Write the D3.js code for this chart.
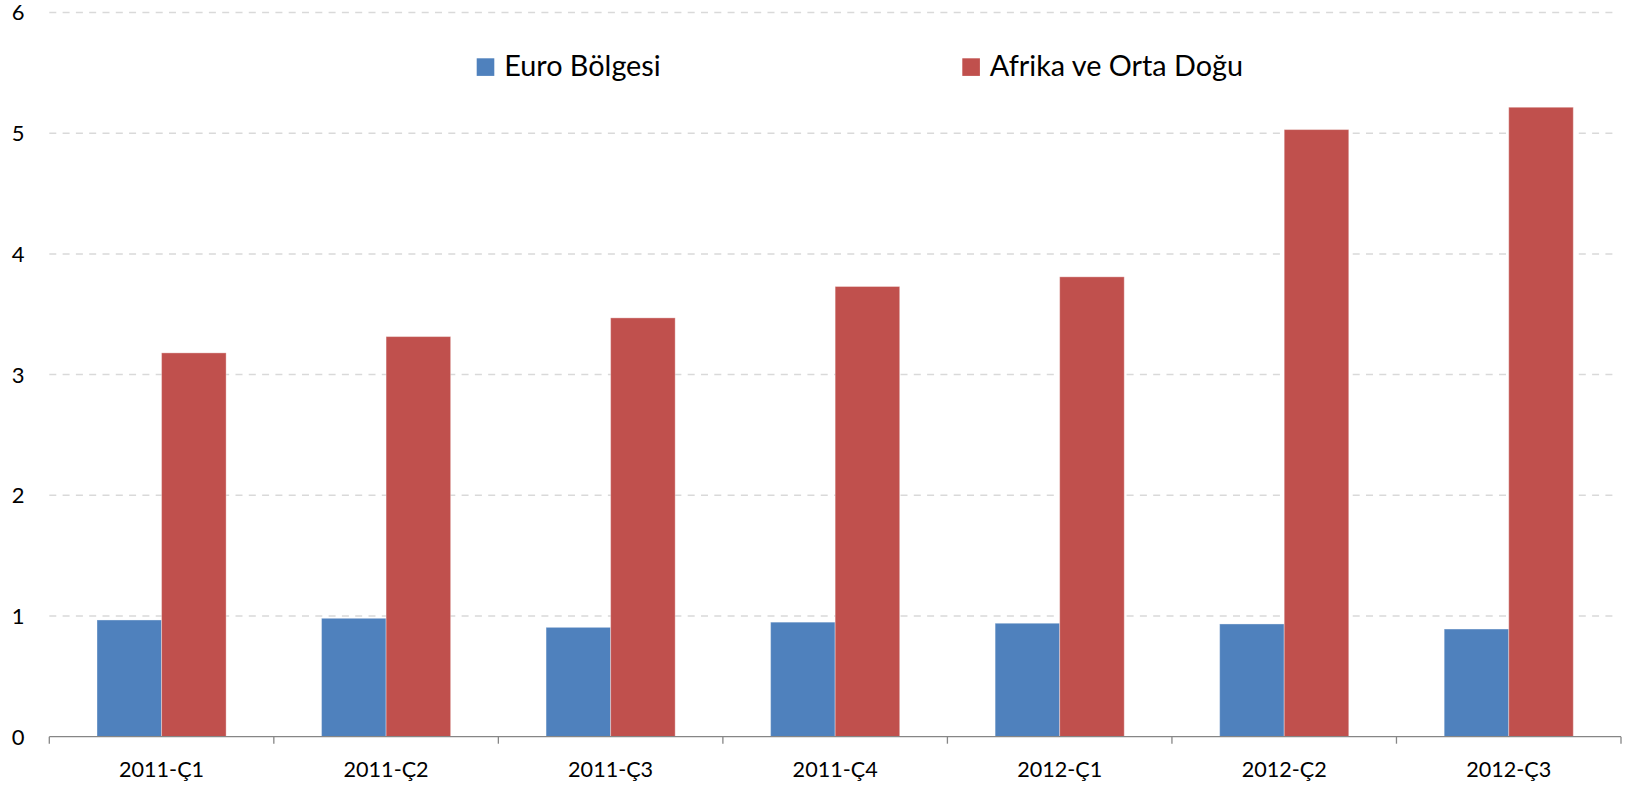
<!DOCTYPE html>
<html>
<head>
<meta charset="utf-8">
<script src="https://cdn.jsdelivr.net/npm/d3@7"></script>
<style>
  body { margin: 0; background: #fff; }
  text { font-family: Lato, "Open Sans", sans-serif; fill: #000; }
</style>
</head>
<body>
<div class="chart"></div>
<script>
// categories and series
const quarters = ["2011-Ç1", "2011-Ç2", "2011-Ç3", "2011-Ç4", "2012-Ç1", "2012-Ç2", "2012-Ç3"];
const seriesNames = ["Euro Bölgesi", "Afrika ve Orta Doğu"];
const euroValues = [0.967, 0.981, 0.906, 0.949, 0.940, 0.934, 0.892];
const africaValues = [3.18, 3.315, 3.47, 3.73, 3.81, 5.03, 5.215];
const yTicks = [0, 1, 2, 3, 4, 5, 6];
const colors = ["#4f81bd", "#c0504d"];

const width = 1634, height = 786;

const rows = quarters.map((q, i) => ({ q: q, values: [euroValues[i], africaValues[i]] }));

const svg = d3.select('.chart')
  .append('svg')
  .attr('width', width)
  .attr('height', height);

// plot area, matched to the reference in pixels
const plot = { left: 49.3, right: 1621, top: 12.5, bottom: 736.7 };

const x = d3.scaleBand()
  .domain(quarters)
  .range([plot.left, plot.right])
  .paddingInner(0.425)
  .paddingOuter(0.2125);

const xInner = d3.scaleBand()
  .domain([0, 1])
  .range([0, x.bandwidth()]);

const y = d3.scaleLinear()
  .domain([0, 6])
  .range([plot.bottom, plot.top]);

// dashed gridlines (0 is the axis line itself)
svg.append('g')
  .selectAll('line')
  .data(yTicks.filter(d => d > 0))
  .join('line')
  .attr('x1', plot.left)
  .attr('x2', 1616)
  .attr('y1', d => y(d))
  .attr('y2', d => y(d))
  .attr('stroke', '#d9d9d9')
  .attr('stroke-width', 1.5)
  .attr('stroke-dasharray', '7,6.3');

// y tick labels, no axis line on the left
svg.append('g')
  .selectAll('text')
  .data(yTicks)
  .join('text')
  .attr('x', 24.5)
  .attr('y', d => y(d))
  .attr('dy', '0.36em')
  .attr('text-anchor', 'end')
  .style('font-size', '22px')
  .text(d => d);

// bars
const groups = svg.append('g')
  .selectAll('g')
  .data(rows)
  .join('g')
  .attr('transform', d => 'translate(' + x(d.q) + ',0)');

groups.selectAll('rect')
  .data(d => d.values)
  .join('rect')
  .attr('x', (d, i) => xInner(i))
  .attr('y', d => y(d))
  .attr('width', xInner.bandwidth())
  .attr('height', d => y(0) - y(d))
  .attr('fill', (d, i) => colors[i])
  .attr('stroke', 'rgba(255,255,255,0.35)')
  .attr('stroke-width', 1);

// bottom axis with ticks between categories
const xAxis = svg.append('g');
xAxis.append('line')
  .attr('x1', plot.left)
  .attr('x2', plot.right)
  .attr('y1', plot.bottom)
  .attr('y2', plot.bottom)
  .attr('stroke', '#868686')
  .attr('stroke-width', 1.3);

const boundaries = quarters.map(q => x(q) - x.step() * x.paddingInner() / 2).concat([plot.right]);
xAxis.selectAll('.tick')
  .data(boundaries)
  .join('line')
  .attr('class', 'tick')
  .attr('x1', d => d)
  .attr('x2', d => d)
  .attr('y1', plot.bottom)
  .attr('y2', plot.bottom + 7)
  .attr('stroke', '#868686')
  .attr('stroke-width', 1.3);

xAxis.selectAll('text')
  .data(quarters)
  .join('text')
  .attr('x', d => x(d) + x.bandwidth() / 2)
  .attr('y', 776.7)
  .attr('text-anchor', 'middle')
  .style('font-size', '21.6px')
  .text(d => d);

// legend
const legendX = [476.7, 962.3];
const legend = svg.append('g')
  .selectAll('g')
  .data(seriesNames)
  .join('g')
  .attr('transform', (d, i) => 'translate(' + legendX[i] + ',58.3)');

legend.append('rect')
  .attr('width', 17.6)
  .attr('height', 17.6)
  .attr('fill', (d, i) => colors[i]);

legend.append('text')
  .attr('x', 27.5)
  .attr('y', 17.7)
  .style('font-size', '28.8px')
  .text(d => d);
</script>
</body>
</html>
